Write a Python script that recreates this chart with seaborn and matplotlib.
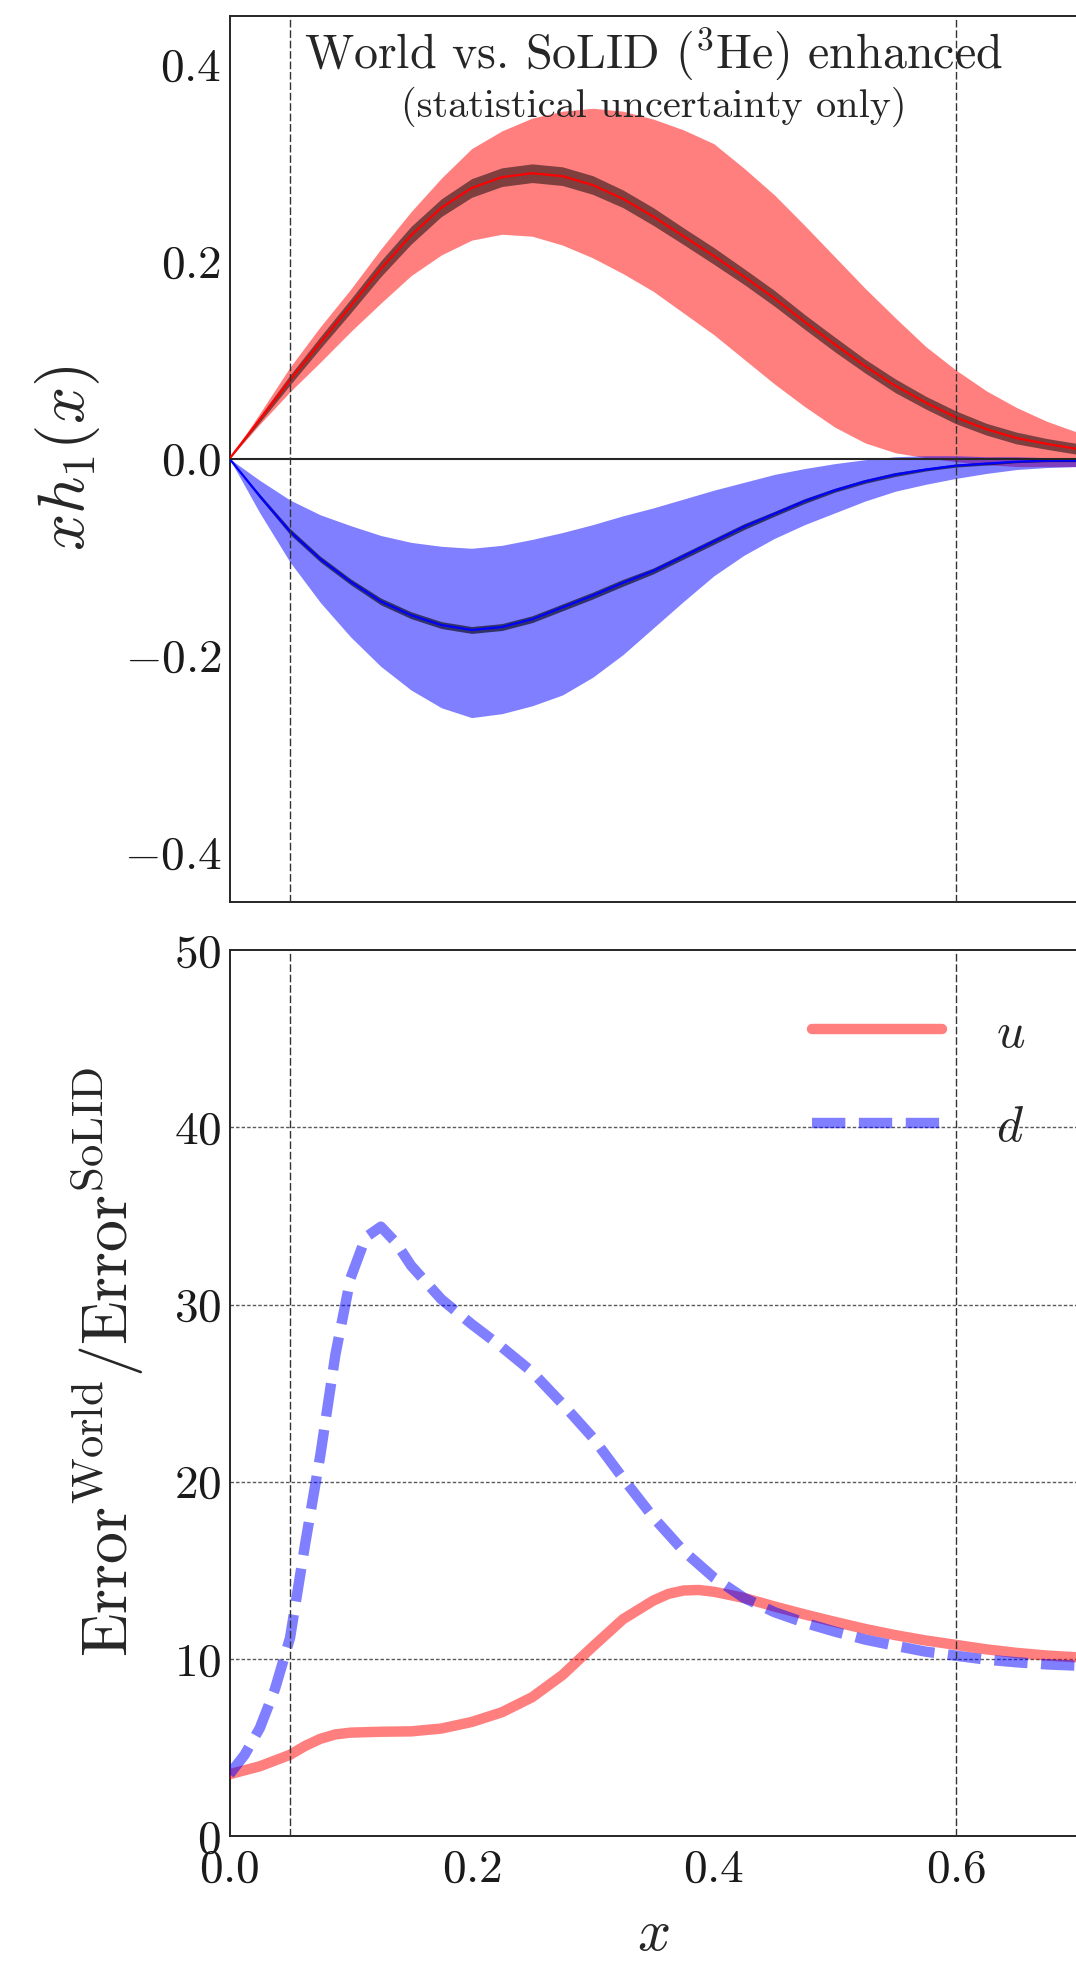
import numpy as np
import pandas as pd
import matplotlib
matplotlib.use("Agg")
import matplotlib.pyplot as plt
import seaborn as sns

# ---------------- data ----------------
x_top = [0.0, 0.025, 0.05, 0.075, 0.1, 0.125, 0.15, 0.175, 0.2, 0.225, 0.25,
         0.275, 0.3, 0.325, 0.35, 0.375, 0.4, 0.425, 0.45, 0.475, 0.5, 0.525,
         0.55, 0.575, 0.6, 0.625, 0.65, 0.675, 0.7]

u_center = [0.0, 0.040, 0.080, 0.118, 0.155, 0.193, 0.227, 0.255, 0.275, 0.286,
            0.290, 0.287, 0.278, 0.264, 0.246, 0.226, 0.206, 0.185, 0.163, 0.139,
            0.116, 0.094, 0.074, 0.057, 0.042, 0.030, 0.021, 0.015, 0.010]
u_world_hi = [0.0, 0.046, 0.093, 0.134, 0.172, 0.213, 0.251, 0.285, 0.315, 0.333,
              0.346, 0.353, 0.356, 0.353, 0.345, 0.334, 0.320, 0.295, 0.268, 0.237,
              0.205, 0.173, 0.143, 0.114, 0.090, 0.069, 0.052, 0.038, 0.027]
u_world_lo = [0.0, 0.035, 0.068, 0.098, 0.129, 0.158, 0.186, 0.207, 0.222, 0.228,
              0.226, 0.217, 0.204, 0.188, 0.170, 0.148, 0.126, 0.101, 0.076, 0.053,
              0.032, 0.016, 0.006, 0.001, -0.003, -0.006, -0.008, -0.008, -0.008]
u_solid_err = [0.0, 0.003, 0.005, 0.006, 0.007, 0.008, 0.009, 0.009, 0.0095, 0.0095,
               0.0095, 0.0095, 0.0095, 0.009, 0.009, 0.0085, 0.0085, 0.008, 0.008, 0.0075,
               0.0075, 0.007, 0.007, 0.0065, 0.0065, 0.006, 0.006, 0.0055, 0.0055]

d_center = [0.0, -0.038, -0.074, -0.102, -0.125, -0.145, -0.159, -0.169, -0.174,
            -0.171, -0.163, -0.151, -0.139, -0.126, -0.114, -0.099, -0.084, -0.069,
            -0.056, -0.043, -0.032, -0.023, -0.016, -0.011, -0.007, -0.005, -0.003,
            -0.002, -0.002]
d_world_hi = [0.0, -0.022, -0.042, -0.057, -0.068, -0.078, -0.085, -0.089, -0.091,
              -0.088, -0.082, -0.075, -0.067, -0.058, -0.050, -0.041, -0.032, -0.024,
              -0.016, -0.010, -0.005, -0.001, 0.002, 0.003, 0.003, 0.002, 0.002, 0.001,
              0.001]
d_world_lo = [0.0, -0.055, -0.105, -0.146, -0.181, -0.211, -0.235, -0.253, -0.263,
              -0.259, -0.251, -0.240, -0.222, -0.199, -0.172, -0.145, -0.119, -0.098,
              -0.081, -0.067, -0.055, -0.043, -0.033, -0.026, -0.020, -0.015, -0.011,
              -0.009, -0.008]
d_solid_err = [0.0, 0.002, 0.003, 0.003, 0.003, 0.0035, 0.0035, 0.0035, 0.0035,
               0.0035, 0.0035, 0.0035, 0.0035, 0.0035, 0.003, 0.003, 0.003, 0.003,
               0.0025, 0.0025, 0.002, 0.002, 0.002, 0.0015, 0.0015, 0.0015, 0.001,
               0.001, 0.001]

x_ratio_u = [0.0, 0.025, 0.05, 0.0625, 0.075, 0.0875, 0.1, 0.125, 0.15, 0.175, 0.2,
             0.225, 0.25, 0.275, 0.3, 0.325, 0.35, 0.3625, 0.375, 0.3875, 0.4,
             0.425, 0.45, 0.475, 0.5, 0.525, 0.55, 0.575, 0.6, 0.625, 0.65, 0.675,
             0.7]
ratio_u = [3.5, 3.95, 4.6, 5.1, 5.5, 5.75, 5.85, 5.9, 5.92, 6.08, 6.45, 7.0, 7.85,
           9.1, 10.7, 12.25, 13.3, 13.68, 13.87, 13.9, 13.8, 13.45, 12.97, 12.52,
           12.1, 11.7, 11.35, 11.05, 10.8, 10.55, 10.35, 10.2, 10.1]

x_ratio_d = [0.0, 0.0125, 0.025, 0.0375, 0.05, 0.0625, 0.075, 0.0875, 0.1, 0.1125,
             0.125, 0.1375, 0.15, 0.175, 0.2, 0.225, 0.25, 0.275, 0.3, 0.325, 0.35,
             0.375, 0.4, 0.425, 0.45, 0.475, 0.5, 0.525, 0.55, 0.575, 0.6, 0.625,
             0.65, 0.675, 0.7]
ratio_d = [3.5, 4.6, 6.1, 8.3, 11.2, 16.5, 21.5, 27.2, 31.5, 33.8, 34.4, 33.5,
           32.2, 30.3, 28.9, 27.6, 26.2, 24.4, 22.5, 20.2, 18.0, 16.1, 14.6, 13.45,
           12.65, 12.05, 11.55, 11.1, 10.75, 10.42, 10.19, 9.97, 9.82, 9.7, 9.63]

x_ticks = [0.0, 0.2, 0.4, 0.6]
x_tick_labels = [r"$0.0$", r"$0.2$", r"$0.4$", r"$0.6$"]
top_y_ticks = [-0.4, -0.2, 0.0, 0.2, 0.4]
top_y_tick_labels = [r"$-0.4$", r"$-0.2$", r"$0.0$", r"$0.2$", r"$0.4$"]
bot_y_ticks = [0, 10, 20, 30, 40, 50]
bot_y_tick_labels = [r"$0$", r"$10$", r"$20$", r"$30$", r"$40$", r"$50$"]
grid_levels = [10, 20, 30, 40]
cut_lines = [0.05, 0.6]

title_line1 = r"World vs. SoLID ($^3$He) enhanced"
title_line2 = r"(statistical uncertainty only)"
top_ylabel = r"$xh_1(x)$"
bot_ylabel = r"$\mathrm{Error}^{\mathrm{World}}/\mathrm{Error}^{\mathrm{SoLID}}$"
xlabel = r"$x$"
legend_labels = [r"$u$", r"$d$"]

# ---------------- style ----------------
sns.set_theme(style="white")
plt.rcParams.update({
    "font.family": "serif",
    "font.serif": ["cmr10", "DejaVu Serif"],
    "mathtext.fontset": "cm",
    "axes.formatter.use_mathtext": True,
    "axes.edgecolor": "0.15",
    "axes.linewidth": 1.4,
})

W, H = 1076, 1963
fig = plt.figure(figsize=(W / 100, H / 100), dpi=100)
fig.patch.set_facecolor("white")

x0_px = 229.5
px_per_x = 1210.8
xmax = 0.7
ax_w = xmax * px_per_x

ax1 = fig.add_axes([x0_px / W, 1 - 901.7 / H, ax_w / W, (901.7 - 15.7) / H])
ax2 = fig.add_axes([x0_px / W, 1 - 1836.3 / H, ax_w / W, (1836.3 - 950.2) / H])

# ---------------- top panel ----------------
xt = np.array(x_top)
ax1.fill_between(xt, u_world_lo, u_world_hi, color="red", alpha=0.5, lw=0, zorder=1)
ax1.fill_between(xt, d_world_lo, d_world_hi, color="blue", alpha=0.5, lw=0, zorder=1)
ax1.fill_between(xt, np.array(u_center) - np.array(u_solid_err),
                 np.array(u_center) + np.array(u_solid_err),
                 color="black", alpha=0.5, lw=0, zorder=2)
ax1.fill_between(xt, np.array(d_center) - np.array(d_solid_err),
                 np.array(d_center) + np.array(d_solid_err),
                 color="black", alpha=0.6, lw=0, zorder=2)
sns.lineplot(x=x_top, y=u_center, ax=ax1, color="red", lw=1.6, zorder=3)
sns.lineplot(x=x_top, y=d_center, ax=ax1, color="blue", lw=1.6, zorder=3)
ax1.axhline(0, color="0.15", lw=1.5, zorder=4)

ax1.set_xlim(0, xmax)
ax1.set_ylim(-0.45, 0.45)
ax1.set_xticks(x_ticks)
ax1.set_xticklabels([])
ax1.set_yticks(top_y_ticks)
ax1.set_yticklabels(top_y_tick_labels)
ax1.set_ylabel(top_ylabel, fontsize=47)
ax1.yaxis.set_label_coords(-0.15, 0.5)

ax1.text(0.5, 0.941, title_line1, transform=ax1.transAxes, ha="center",
         va="baseline", fontsize=34.5, zorder=6)
ax1.text(0.5, 0.8857, title_line2, transform=ax1.transAxes, ha="center",
         va="baseline", fontsize=29, zorder=6)

# ---------------- bottom panel ----------------
for lev in grid_levels:
    ax2.axhline(lev, color="0.35", lw=1.0, ls=(0, (2.5, 1.5)), zorder=0)

sns.lineplot(x=x_ratio_u, y=ratio_u, ax=ax2, color="red", alpha=0.5, lw=7.5,
             label=legend_labels[0], zorder=3)
sns.lineplot(x=x_ratio_d, y=ratio_d, ax=ax2, color="blue", alpha=0.5, lw=7.5,
             linestyle=(0, (3.2, 1.3)), label=legend_labels[1], zorder=3)

ax2.set_xlim(0, xmax)
ax2.set_ylim(0, 50)
ax2.set_xticks(x_ticks)
ax2.set_xticklabels(x_tick_labels)
ax2.set_yticks(bot_y_ticks)
ax2.set_yticklabels(bot_y_tick_labels)
ax2.set_xlabel(xlabel, fontsize=42, labelpad=14)
ax2.set_ylabel(bot_ylabel, fontsize=46)
ax2.yaxis.set_label_coords(-0.098, 0.535)

ax2.legend(loc="upper left", bbox_to_anchor=(812 / W, 1 - 1011 / H),
           bbox_transform=fig.transFigure, frameon=False, fontsize=36,
           handlelength=2.6, handletextpad=1.08, labelspacing=0.96,
           borderpad=0, borderaxespad=0)

for ax in (ax1, ax2):
    for xv in cut_lines:
        ax.axvline(xv, color="0.2", lw=1.0, ls=(0, (5.5, 2.0)), zorder=5)
    ax.spines["right"].set_visible(False)
    ax.tick_params(axis="both", direction="in", length=8, width=1.2,
                   labelsize=34, colors="0.1", pad=6)
    ax.tick_params(axis="x", pad=9)
    ax.set_facecolor("white")

fig.savefig("out.png", dpi=100, facecolor="white")
